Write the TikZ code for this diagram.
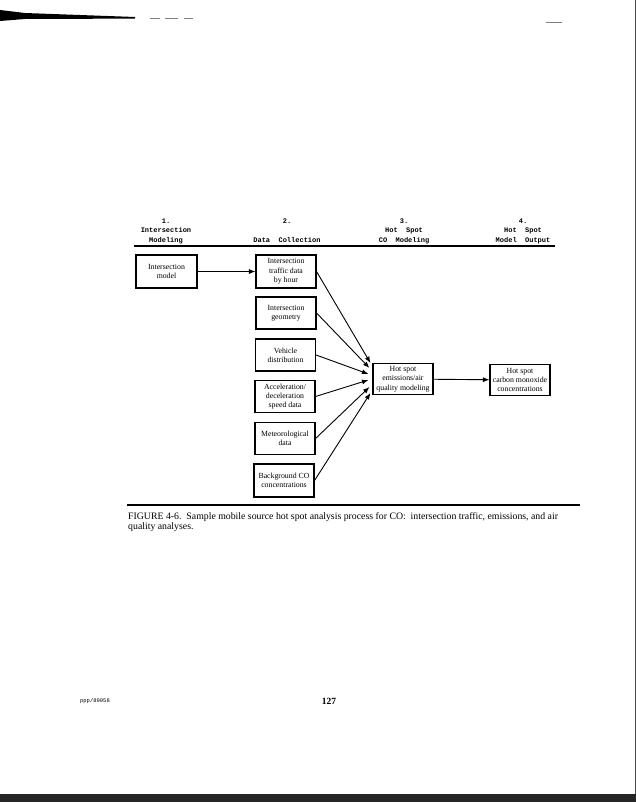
\documentclass[tikz,border=0pt]{standalone}
\usepackage{fontspec}
\setmainfont{Liberation Serif}
\newfontfamily\hdrfont{Liberation Mono}
\usetikzlibrary{arrows.meta,calc}
\begin{document}
\begin{tikzpicture}[x=1pt,y=-1pt,
  boxnode/.style={draw,line width=1.1pt,minimum width=60pt,minimum height=32pt,
    align=center,inner sep=1pt,font=\fontsize{7.8}{9.3}\selectfont},
  hdrnode/.style={align=center,inner sep=0pt,anchor=base,
    font=\hdrfont\bfseries\fontsize{7}{9.6}\selectfont},
  flow/.style={line width=0.9pt,-{Latex[length=6.5pt,width=5pt]}},
  rulestyle/.style={line width=1.9pt}]
\useasboundingbox (0,0) rectangle (636,802);
\fill[white] (0,0) rectangle (636,802);
% scan artifacts
\fill[black] (0,10) -- (25,13) -- (135,17) -- (135,18.6) -- (25,19) -- (0,21) -- cycle;
\draw[line width=0.8pt,gray] (150,18) -- (160,18) (165,18) -- (178,18) (184,18) -- (193,18);
\draw[line width=0.6pt,gray] (546,22) -- (562,22);
\fill[black!85] (0,794) rectangle (636,802);
\draw[line width=1pt,black!70] (635,0) -- (635,794);
% header
\node[hdrnode] (h1a) at (166,223.5) {1.};
\node[hdrnode] (h1b) at (166,233) {Intersection};
\node[hdrnode] (h1c) at (166,242.5) {Modeling};
\node[hdrnode] (h2a) at (287,223.5) {2.};
\node[hdrnode] (h2c) at (287,242.5) {Data~~Collection};
\node[hdrnode] (h3a) at (404,223.5) {3.};
\node[hdrnode] (h3b) at (404,233) {Hot~~Spot};
\node[hdrnode] (h3c) at (404,242.5) {CO~~Modeling};
\node[hdrnode] (h4a) at (523,223.5) {4.};
\node[hdrnode] (h4b) at (523,233) {Hot~~Spot};
\node[hdrnode] (h4c) at (523,242.5) {Model~~Output};
\coordinate (tr1) at (134,246);
\coordinate (tr2) at (555,246);
\draw[rulestyle] (tr1) -- (tr2);
% boxes
\node[boxnode,minimum width=61pt,minimum height=33pt] (im) at (166.5,271.5) {Intersection\\model};
\node[boxnode,minimum height=33pt] (td) at (286,271.5) {Intersection\\traffic data\\by hour};
\node[boxnode] (geo) at (286,313) {Intersection\\geometry};
\node[boxnode] (veh) at (285.5,355) {Vehicle\\distribution};
\node[boxnode] (acc) at (285,396.5) {Acceleration/\\deceleration\\speed data};
\node[boxnode] (met) at (285,438.5) {Meteorological\\data};
\node[boxnode,minimum height=33pt] (bg) at (284,480.5) {Background CO\\concentrations};
\node[boxnode,minimum height=31pt] (hs) at (403,379) {Hot spot\\emissions/air\\quality modeling};
\node[boxnode,minimum height=31pt] (out) at (520,380) {Hot spot\\carbon monoxide\\concentrations};
% connectors
\draw[flow] (im) -- (td);
\draw[flow] (td.east) -- ([xshift=-2pt,yshift=16pt]hs.west);
\draw[flow] (geo.east) -- ([xshift=-3pt,yshift=11pt]hs.west);
\draw[flow] (veh.east) -- ([xshift=-4pt,yshift=5pt]hs.west);
\draw[flow] (acc.east) -- ([xshift=-4pt,yshift=-1pt]hs.west);
\draw[flow] (met.east) -- ([xshift=-3pt,yshift=-8pt]hs.west);
\draw[flow] (bg.east) -- ([xshift=-2pt,yshift=-14pt]hs.west);
\draw[flow] (hs) -- (out);
% bottom rule and caption
\coordinate (br1) at (127,505);
\coordinate (br2) at (580,505);
\draw[rulestyle] (br1) -- (br2);
\node[anchor=north west,inner sep=0pt,align=left,font=\fontsize{9.8}{10}\selectfont] (cap) at (128,512)
  {FIGURE 4-6.\ \ Sample mobile source hot spot analysis process for CO:\ \ intersection traffic, emissions, and air\\quality analyses.};
% footer
\node[font=\fontsize{9.5}{10}\selectfont\bfseries,inner sep=0pt] (pg) at (329,701) {127};
\node[font=\hdrfont\fontsize{5.5}{6}\selectfont,inner sep=0pt] (ppp) at (95,701) {ppp/89058};
\end{tikzpicture}
\end{document}
